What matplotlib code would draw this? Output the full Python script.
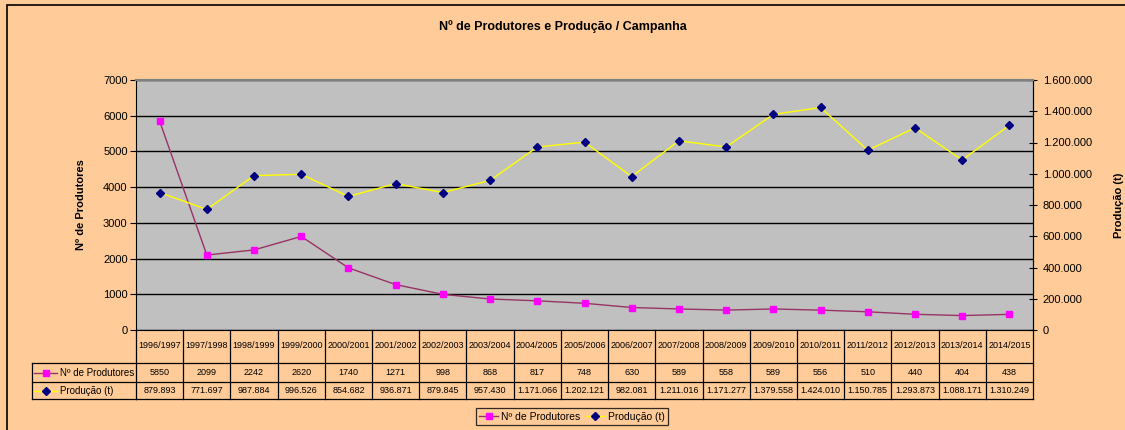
import matplotlib
matplotlib.use("Agg")
import matplotlib.pyplot as plt
from matplotlib.lines import Line2D
from matplotlib.patches import Rectangle
from matplotlib.ticker import FuncFormatter, MultipleLocator

campanhas = ["1996/1997", "1997/1998", "1998/1999", "1999/2000", "2000/2001",
             "2001/2002", "2002/2003", "2003/2004", "2004/2005", "2005/2006",
             "2006/2007", "2007/2008", "2008/2009", "2009/2010", "2010/2011",
             "2011/2012", "2012/2013", "2013/2014", "2014/2015"]
produtores = [5850, 2099, 2242, 2620, 1740, 1271, 998, 868, 817, 748,
              630, 589, 558, 589, 556, 510, 440, 404, 438]
producao = [879893, 771697, 987884, 996526, 854682, 936871, 879845, 957430,
            1171066, 1202121, 982081, 1211016, 1171277, 1379558, 1424010,
            1150785, 1293873, 1088171, 1310249]

title = "Nº de Produtores e Produção / Campanha"
label_prod = "Nº de Produtores"
label_t = "Produção (t)"

plt.rcParams['font.family'] = ['Liberation Sans', 'DejaVu Sans']

W, H = 1125, 430
BG = "#FFCC99"
fig = plt.figure(figsize=(W / 100, H / 100), dpi=100, facecolor=BG)

# outer frame
fig.add_artist(Rectangle((7 / W, -0.05), 1.2, 1 - 5 / H + 0.05, transform=fig.transFigure,
                         fill=False, edgecolor="black", linewidth=1.2))

L, R, T, B = 136, 1033, 80, 330
ax = fig.add_axes([L / W, 1 - B / H, (R - L) / W, (B - T) / H])
ax.set_facecolor("#C0C0C0")
n = len(campanhas)
x = list(range(n))

ax.plot(x, produtores, color="#993366", linewidth=1, marker="s", markersize=5,
        markerfacecolor="#FF00FF", markeredgecolor="#FF00FF", zorder=3)
ax.set_xlim(-0.5, n - 0.5)
ax.set_ylim(0, 7000)
ax.yaxis.set_major_locator(MultipleLocator(1000))
ax.set_xticks([])
ax.grid(axis="y", color="black", linewidth=1)
ax.set_axisbelow(True)
ax.tick_params(axis="y", direction="out", length=4, labelsize=8, pad=2)
for s in ["left", "bottom"]:
    ax.spines[s].set_color("black")
ax.spines["top"].set_color("#808080")
ax.spines["top"].set_linewidth(1.5)
ax.spines["right"].set_color("black")
ax.set_ylabel(label_prod, fontsize=8, fontweight="bold", labelpad=12)

ax2 = ax.twinx()
ax2.plot(x, producao, color="#FFFF00", linewidth=1, marker="D", markersize=4,
         markerfacecolor="#000080", markeredgecolor="#000080", zorder=3)
ax2.set_ylim(0, 1600000)
ax2.yaxis.set_major_locator(MultipleLocator(200000))
ax2.yaxis.set_major_formatter(FuncFormatter(lambda v, p: f"{int(v):,}".replace(",", ".")))
ax2.tick_params(axis="y", direction="inout", length=6, labelsize=8, pad=4)
ax2.set_ylabel(label_t, fontsize=8, fontweight="bold", labelpad=16)
for s in ["left", "bottom"]:
    ax2.spines[s].set_visible(False)
ax2.spines["top"].set_color("#808080")
ax2.spines["top"].set_linewidth(1.5)

# data table
ph = B - T
def yf(py):
    return (B - py) / ph
r0, r1, r2, r3 = yf(330), yf(363), yf(382), yf(399)
xt = ax.get_xaxis_transform()
lw = 0.9
for i in range(n + 1):
    ax.add_line(Line2D([i - 0.5, i - 0.5], [r0, r3], transform=xt, color="black",
                       linewidth=lw, clip_on=False))
for yy in [r1, r2, r3]:
    ax.add_line(Line2D([-0.5, n - 0.5], [yy, yy], transform=xt, color="black",
                       linewidth=lw, clip_on=False))
xl = (31.7 - L) / (R - L)
at = ax.transAxes
for yy in [r1, r2, r3]:
    ax.add_line(Line2D([xl, 0], [yy, yy], transform=at, color="black",
                       linewidth=lw, clip_on=False))
ax.add_line(Line2D([xl, xl], [r1, r3], transform=at, color="black",
                   linewidth=lw, clip_on=False))

ymid0 = yf(346)
ymid1 = (r1 + r2) / 2
ymid2 = (r2 + r3) / 2
fs_t = 6.5
for i in range(n):
    ax.text(i, ymid0, campanhas[i], transform=xt, ha="center", va="center", fontsize=fs_t)
    ax.text(i, ymid1, str(produtores[i]), transform=xt, ha="center", va="center", fontsize=fs_t)
    ax.text(i, ymid2, f"{producao[i]:,}".replace(",", "."), transform=xt, ha="center",
            va="center", fontsize=fs_t)

# legend keys in table
kx0 = (34 - L) / (R - L)
kx1 = (57 - L) / (R - L)
km = (kx0 + kx1) / 2
ax.add_line(Line2D([kx0, kx1], [ymid1, ymid1], transform=at, color="#993366",
                   linewidth=1, clip_on=False))
ax.add_line(Line2D([km], [ymid1], transform=at, marker="s", markersize=5, color="#FF00FF",
                   clip_on=False))
ax.add_line(Line2D([kx0, kx1], [ymid2, ymid2], transform=at, color="#FFFF00",
                   linewidth=1, clip_on=False))
ax.add_line(Line2D([km], [ymid2], transform=at, marker="D", markersize=4, color="#000080",
                   clip_on=False))
tx = (60 - L) / (R - L)
ax.text(tx, ymid1, label_prod, transform=at, ha="left", va="center", fontsize=7)
ax.text(tx, ymid2, label_t, transform=at, ha="left", va="center", fontsize=7)

# title
fig.text(0.5, 1 - 27 / H, title, ha="center", va="center", fontsize=9, fontweight="bold")

# legend
h1 = Line2D([], [], color="#993366", linewidth=1, marker="s", markersize=5,
            markerfacecolor="#FF00FF", markeredgecolor="#FF00FF")
h2 = Line2D([], [], color="#FFFF00", linewidth=1, marker="D", markersize=4,
            markerfacecolor="#000080", markeredgecolor="#000080")
leg = fig.legend([h1, h2], [label_prod, label_t], loc="center",
                 bbox_to_anchor=(572 / W, 1 - 416.5 / H), ncol=2, fontsize=7.5,
                 frameon=True, fancybox=False, edgecolor="black", facecolor=BG,
                 handlelength=1.8, handletextpad=0.3, columnspacing=0.5,
                 borderpad=0.35, borderaxespad=0)
leg.get_frame().set_linewidth(0.9)

fig.savefig("out.png", dpi=100, facecolor=BG)
